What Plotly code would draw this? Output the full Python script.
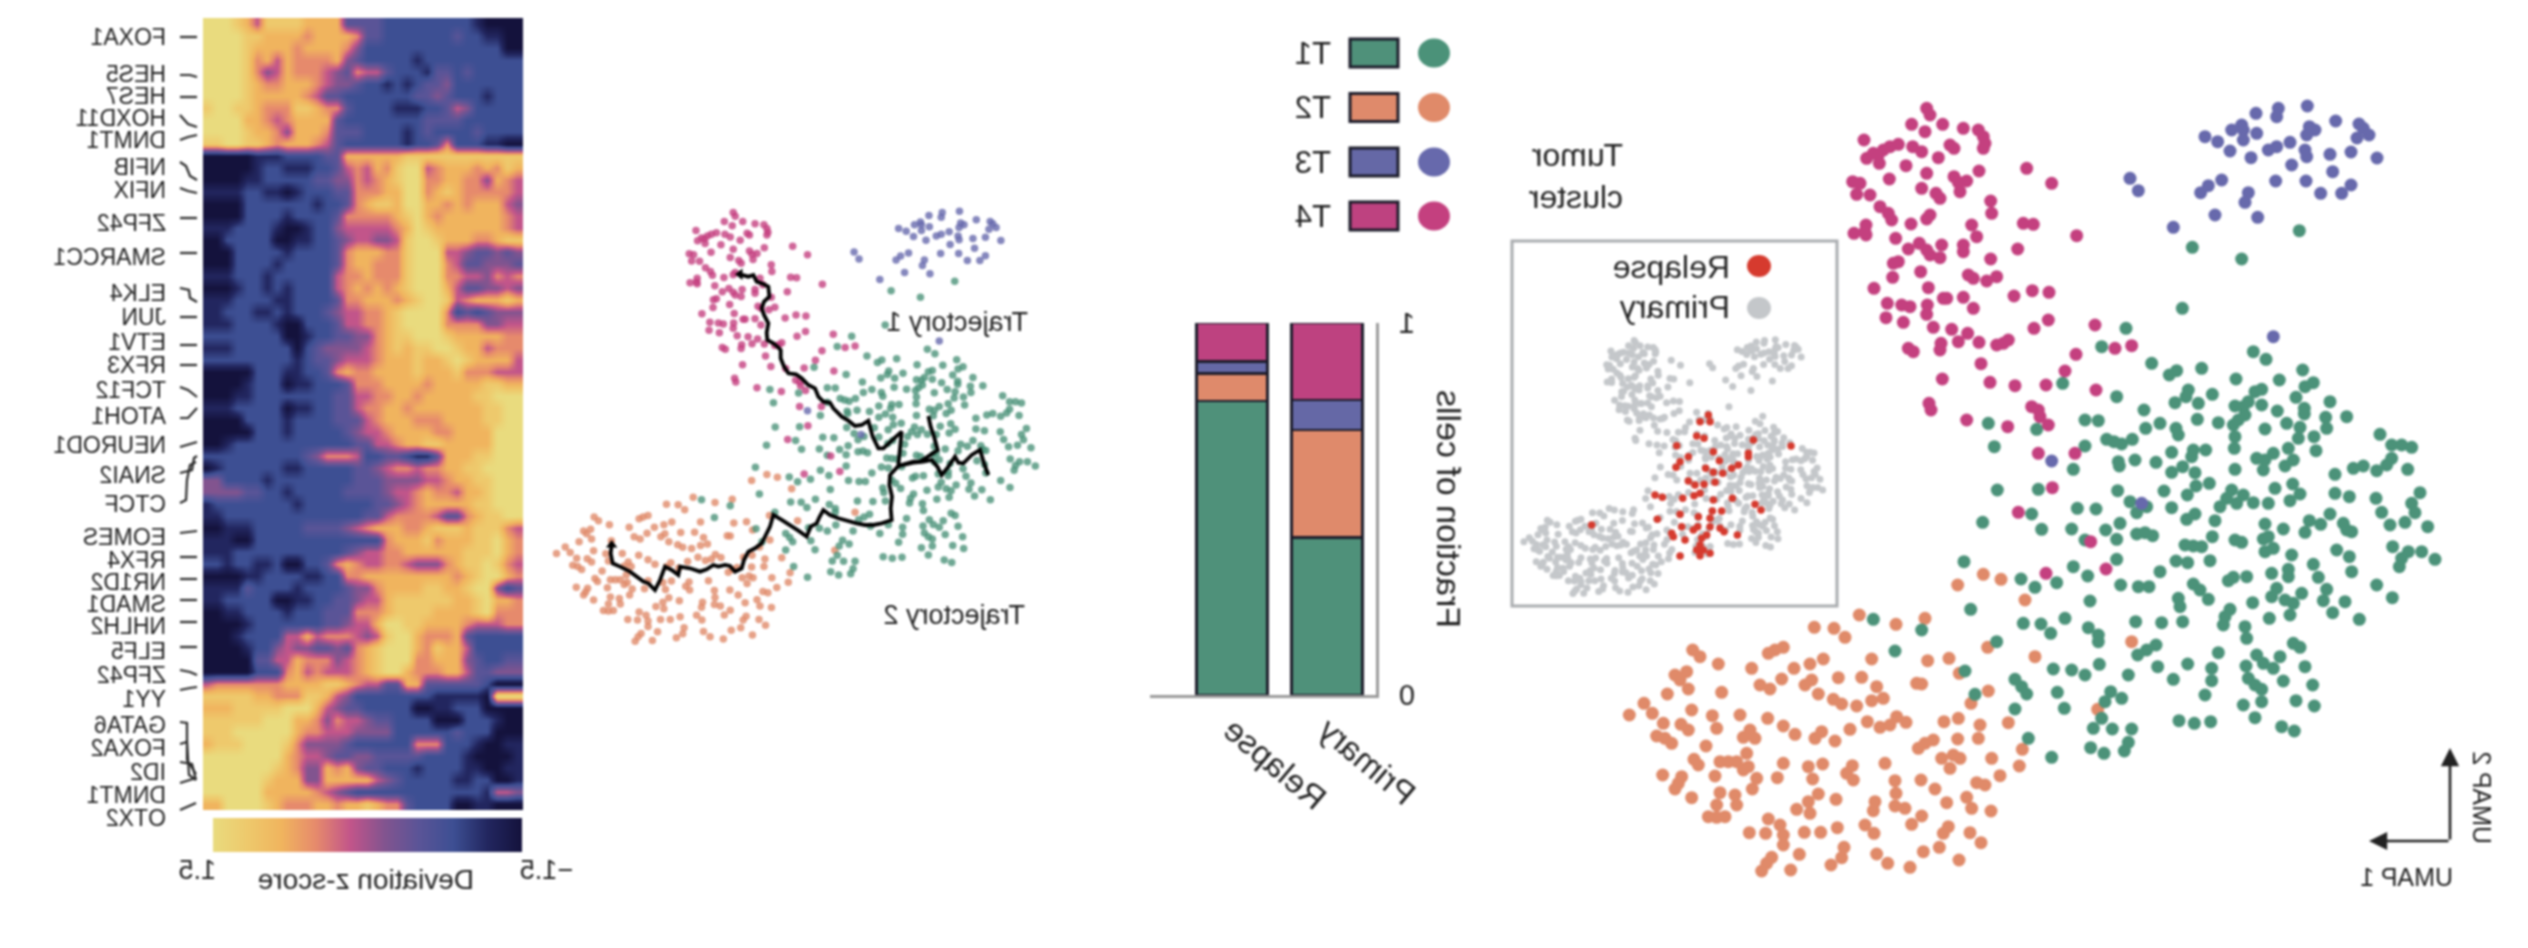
import plotly.graph_objects as go

W, H = 2528, 948
# ---------- tumour cluster fractions ----------
samples = ["Primary", "Relapse"]
clusters = ["T1", "T2", "T3", "T4"]
frac_T1 = [0.424, 0.791]
frac_T2 = [0.288, 0.073]
frac_T3 = [0.081, 0.032]
frac_T4 = [0.207, 0.104]
cluster_colors = ["#4B9279", "#E08A69", "#6769AC", "#C4407F"]
bar_colors = ["#4F917A", "#DF8A6B", "#6568A6", "#BE4280"]

# ---------- heatmap: deviation z-score levels, one digit per cell ----------
genes = ["FOXA1","HES5","HES7","HOXD11","DNMT1","NFIB","NFIX","ZFP42","SMARCC1","ELK4","JUN","ETV1","RFX3","TCF12","ATOH1","NEUROD1",
         "SNAI2","CTCF","EOMES","RFX4","NR1D2","SMAD1","NHLH2","ELF5","ZFP42","YY1","GATA6","FOXA2","ID2","DNMT1","OTX2"]
heat_rows = [
"99987588887777333322222222210000","99998877776777763322222223221100","99998777767777642222222222222200",
"99998675766667432222212222222222","99998645766654365532221332322222","99998766777654432212123342222222",
"99998777776533222222233432221222","89988766688766322221112235422222","99997765677773222222223333222222",
"99998776477763332222123222232222","88998876777653222222122362221100",
"00000111222233777777888888888888","00000122111223565768995677767687","00001122222334465678996677664765",
"11112211012223366677996787666665","00002222222122367887997767677754","00002222122223666667897677777765",
"11122221001224555556798777777765","00222220011223455445899877766788","00022222122223677766899955433434",
"00022221222223677666899965334443","11122212222225667666899966554656","00012212122225676767899975334454",
"11122221122223667776789985677787","11222112122234556678999962323444","11122221002223556678999966664455",
"22222222001223344678899987777766","11122222202344445678788998775666","22222222212334555677787789877775",
"00000222112236766777787778666555","00001222011222366677776777778877","00011222222223355667767777788999",
"11122222011223356677677777778899","00002222122223335677766677778899","00000222122222345567777667777999",
"00122222222222233556778877777999",
"22222222223466652233211377788999","01222222112222233456656677889999","44222212222222233344445567788999",
"44443322122222333345567665778999","12222222212222222334567777788999","11222222222222223356666533678899",
"00111222223333456777667888788865","11100222222222222267778677788976","11122222222222345566777777888976",
"22122112002236765566544467889865","00001122221122667777777776789976","11113222212222344677778877899423",
"11222220011223345578888887789776","00112222122233366678888777789666","00001222222233455799887777655566",
"00012222557566654589976667322222","00001224544334367899976877522222","00000335576664567899966777432233",
"00000222675655567899766677533444","56666666777788765533773333332000","88888776668875422222222111110999",
"77788888999754332222200112220000","88888899977646554332222000222100","88899999976655544442222223222000",
"78889999864444322222266622210011","99999999765543344333332222100001","99999998764476743322212222110011",
"99999987774477777543222221122001","99999977777654322222222222221554","77999987666776778766322220011000",
]
zscale_stops = ["#14123C","#22265F","#3D4F93","#5A5497","#82548F","#C2558A","#E68A6C","#F0B45E","#EEC96C","#E9DB7E"]

# ---------- UMAP embedding, cells ----------
T4_cells = [(290,40),(300,60),(245,88),(285,110),(338,88),(400,100),(445,105),(460,125),(465,145),(460,160),(102,135),(205,148),(180,155),(160,165),(130,175),(110,190),(148,205),(145,180),(248,155),(275,170),(325,188),(360,150),(372,160),(228,212),(290,235),(178,252),(372,245),(385,262),(410,258),(390,290),(447,228),(68,260),(90,265),(80,298),(120,300),(275,280),(318,295),(330,310),(150,335),(175,355),(185,375),(300,360),(290,372),(243,387),(482,318),(485,355),(590,220),(665,265),(580,385),(610,388),(740,422),(108,390),(105,410),(72,415),(108,420),(425,390),(440,425),(197,430),(235,462),(268,445),(290,465),(300,480),(335,450),(330,488),(400,450),(400,470),(563,462),(482,492),(205,500),(190,505),(272,530),(188,547),(415,540),(430,550),(500,545),(470,558),(132,580),(295,578),(552,603),(607,587),(657,592),(172,625),(215,630),(240,635),(292,630),(290,658),(340,610),(350,610),(400,607),(430,640),(168,668),(220,682),(655,675),(612,700),(795,690),(310,697),(365,703),(413,715),(385,740),(447,742),(333,745),(330,765),(500,750),(520,745),(535,735),(235,760),(250,770),(905,752),(855,760),(738,778),(453,806),(705,828),(337,852),(480,862),(555,872),(648,870),(798,885),(297,925),(303,945),(605,935),(625,945),(630,965),(655,990),(410,975),(533,995),(625,1075),(735,1075),(667,1178),(565,1252),(782,1340),(828,1422),(648,1435)]
T3_cells = [(1345,40),(1340,65),(1432,33),(1278,55),(1517,78),(1235,90),(1205,105),(1125,125),(1163,140),(1240,105),(1280,115),(1240,135),(1438,95),(1455,105),(1430,120),(1200,168),(1263,188),(1380,142),(1340,155),(1315,165),(1425,165),(1430,185),(1500,178),(1385,210),(1508,230),(1337,258),(1428,258),(1472,295),(1535,295),(900,250),(925,287),(1175,255),(1135,272),(1112,293),(1255,293),(1245,322),(1155,360),(1283,367),(1030,397),(1330,725),(665,1098),(935,1225),(1587,87),(1617,120),(1581,129),(1563,171),(1641,189),(1563,270),(1600,100)]
T1_cells = [(425,20),(880,35),(918,58),(575,70),(725,85),(650,92),(628,105),(1028,90),(828,117),(958,120),(1060,128),(1035,140),(685,150),(678,170),(905,148),(885,155),(757,163),(470,170),(1008,172),(645,188),(715,190),(865,185),(850,200),(825,198),(905,195),(1110,185),(552,210),(952,213),(1033,205),(1033,222),(1160,230),(375,240),(415,242),(712,238),(775,248),(855,225),(835,240),(820,255),(980,250),(1097,232),(1100,265),(600,250),(557,265),(648,265),(655,285),(915,267),(1020,262),(85,250),(230,268),(825,290),(1015,295),(1062,290),(1260,283),(440,298),(462,305),(485,312),(517,298),(1295,315),(1325,315),(1355,322),(375,318),(103,320),(823,325),(985,325),(1068,332),(737,330),(700,330),(635,337),(695,350),(940,340),(890,355),(915,360),(1000,360),(975,378),(475,365),(478,378),(525,360),(588,367),(1295,355),(1280,375),(1250,392),(1210,378),(1180,385),(1125,403),(1343,388),(340,388),(825,388),(910,390),(668,380),(635,397),(705,398),(748,430),(708,438),(998,432),(945,445),(1020,462),(990,482),(112,450),(235,448),(473,452),(612,453),(682,465),(815,450),(850,465),(800,475),(830,490),(880,488),(925,490),(1125,460),(1168,470),(1380,458),(1248,475),(510,485),(530,518),(560,500),(352,505),(408,507),(635,503),(780,500),(1355,490),(1265,517),(1365,518),(215,522),(705,522),(680,538),(1110,522),(1048,542),(1082,553),(68,547),(765,542),(480,550),(1150,550),(1335,547),(1290,555),(1403,560),(245,568),(335,567),(437,570),(915,552),(970,567),(1035,577),(1160,570),(1175,575),(530,582),(555,578),(578,587),(470,598),(375,600),(757,590),(910,597),(925,590),(825,600),(845,607),(675,615),(700,618),(725,620),(1298,620),(1130,630),(915,635),(940,625),(1345,635),(1385,635),(1325,655),(995,645),(1168,650),(470,658),(12,665),(648,663),(683,668),(750,662),(1425,658),(1060,673),(1318,680),(340,680),(600,695),(985,688),(1175,695),(935,700),(183,717),(383,708),(820,712),(860,710),(805,722),(1075,712),(985,710),(290,728),(225,742),(482,735),(535,740),(567,740),(700,732),(720,750),(1250,735),(1100,748),(950,745),(1025,760),(935,770),(745,778),(655,775),(660,800),(1297,773),(390,783),(878,788),(975,780),(1000,790),(1090,782),(1155,785),(32,808),(810,808),(990,825),(1118,818),(928,835),(795,830),(1198,838),(190,850),(243,852),(272,880),(315,835),(527,845),(605,848),(668,845),(790,855),(855,860),(385,863),(415,885),(415,905),(860,895),(110,905),(1000,910),(1020,922),(588,915),(560,930),(533,945),(775,938),(890,945),(910,970),(960,950),(418,973),(683,972),(280,987),(335,990),(593,980),(755,985),(858,978),(940,985),(1035,980),(15,993),(375,1005),(505,1005),(165,1018),(640,1018),(755,1022),(865,1015),(970,1023),(185,1040),(200,1062),(885,1035),(905,1048),(1058,1035),(292,1057),(735,1065),(452,1055),(485,1075),(45,1063),(435,1085),(1008,1082),(850,1095),(905,1085),(1063,1098),(165,1107),(313,1105),(885,1133),(425,1135),(657,1142),(703,1150),(752,1145),(965,1160),(1003,1173),(400,1165),(457,1167),(515,1167),(205,1195),(505,1207),(392,1223),(432,1240),(493,1233),(275,1252),(-115,870),(-260,838),(-195,933),(667,-95),(697,-278),(845,-243),(1018,-328),(308,130),(498,-35)]
T2_cells = [(718,675),(915,685),(828,703),(583,712),(642,715),(675,742),(218,780),(240,800),(465,780),(490,772),(445,790),(295,822),(395,835),(610,807),(570,822),(522,835),(755,807),(923,812),(987,805),(1103,772),(1245,800),(1535,755),(200,845),(165,855),(180,870),(485,867),(655,863),(725,862),(205,897),(420,885),(450,897),(555,885),(575,870),(770,890),(890,880),(905,882),(1018,850),(305,907),(142,912),(595,912),(640,928),(665,942),(755,932),(790,925),(1105,903),(72,940),(215,960),(710,948),(1053,940),(97,970),(277,977),(360,975),(28,975),(443,985),(130,1000),(183,1003),(205,1020),(290,1015),(490,1008),(525,1033),(742,995),(780,1012),(810,1005),(830,980),(858,997),(972,995),(1015,985),(1080,1005),(1165,998),(1433,958),(690,1018),(605,1025),(585,1045),(645,1053),(110,1038),(135,1045),(155,1060),(390,1020),(370,1042),(405,1045),(258,1068),(1013,1047),(1075,1045),(940,1050),(915,1060),(895,1075),(1207,1078),(380,1090),(222,1108),(235,1125),(300,1115),(325,1115),(350,1115),(385,1130),(370,1140),(490,1120),(608,1122),(565,1130),(697,1127),(795,1120),(965,1105),(1000,1095),(1020,1105),(990,1135),(1115,1105),(1198,1128),(128,1155),(285,1158),(410,1165),(472,1163),(578,1167),(680,1150),(700,1170),(825,1172),(903,1170),(1140,1157),(185,1160),(175,1180),(165,1197),(1070,1178),(1095,1185),(945,1197),(397,1197),(595,1212),(828,1210),(300,1208),(345,1215),(215,1223),(1040,1222),(648,1228),(565,1235),(765,1235),(290,1245),(350,1245),(980,1238),(825,1248),(855,1255),(530,1258),(570,1270),(760,1262),(1055,1255),(1113,1263),(265,1280),(290,1282),(315,1280),(905,1278),(445,1287),(735,1305),(875,1303),(480,1305),(985,1310),(652,1313),(970,1330),(1050,1328),(388,1328),(437,1330),(553,1327),(602,1327),(490,1335),(762,1330),(1083,1358),(490,1365),(672,1372),(958,1372),(538,1393),(910,1385),(770,1392),(665,1403),(455,1402),(440,1420),(425,1443),(1017,1410),(803,1420),(633,1425),(870,1432),(512,1440),(1215,630),(1090,553),(1143,568),(1013,585)]
relapse_cells = [(625,540),(600,560),(630,560),(590,603),(612,610),(530,632),(760,615),(873,633),(640,650),(745,655),(745,665),(565,665),(658,677),(540,680),(528,697),(617,700),(715,690),(695,700),(640,712),(668,715),(565,738),(585,750),(612,748),(645,742),(465,780),(487,787),(600,775),(582,782),(548,790),(640,795),(697,790),(765,808),(783,825),(637,828),(665,828),(540,838),(595,845),(630,850),(472,853),(545,875),(593,875),(630,875),(580,885),(660,880),(672,890),(515,895),(712,900),(620,900),(605,910),(555,915),(600,930),(590,945),(610,945),(630,955),(600,962),(540,963),(275,870),(520,905)]
trajectory_1 = [(600,283),(625,290),(640,285),(650,305),(670,312),(685,320),(688,350),(672,365),(665,385),(672,405),(685,430),(680,458),(682,480),(700,490),(712,500),(722,510),(722,535),(732,560),(745,580),(768,583),(785,595),(805,615),(825,625),(835,650),(850,665),(870,668),(880,685),(905,710),(925,722),(945,738),(965,735),(985,722),(998,770),(1015,805),(1030,805),(1045,790),(1068,770),(1085,755),(1080,810),(1075,855)]
trajectory_branch = [(1165,708),(1172,740),(1182,770),(1193,810),(1160,832),(1140,845),(1120,845),(1100,850),(1075,858),(1050,885),(1048,915),(1056,950),(1052,985),(1055,1020),(1025,1030),(1000,1035),(975,1035),(950,1030),(920,1022),(895,1015),(870,1005),(850,990),(838,1012),(830,1030),(812,1040),(800,1070),(775,1052),(750,1035),(725,1020),(700,1005),(690,1040),(665,1090),(645,1105),(625,1115),(612,1140),(605,1165),(585,1175),(570,1158),(555,1155),(535,1160),(520,1155),(500,1168),(480,1175),(450,1165),(420,1160),(415,1185),(395,1170),(375,1160),(360,1200),(345,1230),(325,1210),(310,1205),(290,1190),(270,1175),(240,1160),(218,1150),(212,1120),(215,1095)]
trajectory_2 = [(1075,858),(1120,848),(1150,845),(1175,840),(1192,860),(1205,885),(1225,860),(1245,830),(1255,848),(1270,850),(1295,825),(1320,810),(1332,850),(1345,885)]

# ---------- helpers ----------
def px(x): return (W - x) / W            # picture x (flipped page) -> paper
def py(y): return 1 - y / H
def dom_x(a, b): return [(W - b) / W, (W - a) / W]
def dom_y(top, bot): return [1 - bot / H, 1 - top / H]

OFF_T4T3 = (690, 45)
OFF_T1 = (1080, 780)
OFF_T2 = (60, 930)
def shift(cells, off): return [c[0] + off[0] for c in cells], [c[1] + off[1] for c in cells]
def relapse_xy(cells):
    return [((1500 + c[0] / 3) - 1513) / .1236 for c in cells], [((235 + c[1] / 3) - 331) / .1106 for c in cells]
def traj_xy(cells):
    return [(c[0] + 2.8) / .5943 for c in cells], [((180 + c[1] / 3) - 196.7) / .1873 for c in cells]

series = [(T2_cells, OFF_T2, 1), (T1_cells, OFF_T1, 0), (T4_cells, OFF_T4T3, 3), (T3_cells, OFF_T4T3, 2)]
FONT = "Liberation Sans"
INK = "#222222"

fig = go.Figure()

# heatmap
z = [[-1.5 + int(ch) / 3 for ch in r.ljust(32, r[-1])[:32]] for r in heat_rows]
stops = [[i / 9, c] for i, c in enumerate(zscale_stops)]
fig.add_trace(go.Heatmap(z=z, zmin=-1.5, zmax=1.5, colorscale=stops, zsmooth="best", xaxis="x", yaxis="y", hoverinfo="skip",
    colorbar=dict(orientation="h", x=(W - 367.5) / W, xanchor="center", y=py(818), yanchor="top", len=309, lenmode="pixels",
                  thickness=34, thicknessmode="pixels", outlinewidth=0, showticklabels=False, ticks="", xpad=0, ypad=0)))

# small and large UMAPs
for cells, off, ci in series:
    x, y = shift(cells, off)
    fig.add_trace(go.Scatter(x=x, y=y, mode="markers", marker=dict(size=7.5, color=cluster_colors[ci], opacity=0.8, line_width=0), xaxis="x2", yaxis="y2", hoverinfo="skip"))
    fig.add_trace(go.Scatter(x=x, y=y, mode="markers", marker=dict(size=13, color=cluster_colors[ci], line_width=0), xaxis="x3", yaxis="y3", hoverinfo="skip"))
    fig.add_trace(go.Scatter(x=x, y=y, mode="markers", marker=dict(size=7, color="#C4C7CA", line_width=0), xaxis="x4", yaxis="y4", hoverinfo="skip"))
rx, ry = relapse_xy(relapse_cells)
fig.add_trace(go.Scatter(x=rx, y=ry, mode="markers", marker=dict(size=7.5, color="#D63A2E", line_width=0), xaxis="x4", yaxis="y4", hoverinfo="skip"))

# trajectories
for path in (trajectory_1, trajectory_branch, trajectory_2):
    tx, ty = traj_xy(path)
    fig.add_trace(go.Scatter(x=tx, y=ty, mode="lines", line=dict(color="black", width=3.8), xaxis="x2", yaxis="y2", hoverinfo="skip"))
tx, ty = traj_xy([trajectory_1[0], trajectory_branch[-1]])
fig.add_trace(go.Scatter(x=tx, y=ty, mode="markers", marker=dict(symbol=["triangle-right", "triangle-up"], size=10, color="black"), xaxis="x2", yaxis="y2", hoverinfo="skip"))

# stacked bars
for vals, name, col in zip((frac_T1, frac_T2, frac_T3, frac_T4), clusters, bar_colors):
    fig.add_trace(go.Bar(x=[0, 1], y=vals, name=name, width=0.745, marker=dict(color=col, line=dict(color="#1c1c2a", width=2.5)), xaxis="x5", yaxis="y5", hoverinfo="skip"))

hidden = dict(visible=False, showgrid=False, zeroline=False)
fig.update_layout(
    width=W, height=H, margin=dict(l=0, r=0, t=0, b=0, autoexpand=False), autosize=False, showlegend=False, barmode="stack",
    paper_bgcolor="white", plot_bgcolor="white", font=dict(family=FONT, color=INK),
    xaxis=dict(domain=dom_x(203, 523), range=[31.5, -0.5], **hidden),
    yaxis=dict(domain=dom_y(18, 810), range=[65.5, -0.5], anchor="x", **hidden),
    xaxis2=dict(domain=dom_x(539.07, 1090.6), range=[2784, 0], anchor="y2", **hidden),
    yaxis2=dict(domain=dom_y(196.7, 684.4), range=[2604, 0], anchor="x2", **hidden),
    xaxis3=dict(domain=dom_x(1600, 2528), range=[2784, 0], anchor="y3", **hidden),
    yaxis3=dict(domain=dom_y(80, 948), range=[2604, 0], anchor="x3", **hidden),
    xaxis4=dict(domain=dom_x(1513, 1837), range=[2621, 0], anchor="y4", **hidden),
    yaxis4=dict(domain=dom_y(331, 606), range=[2486, 0], anchor="x4", **hidden),
    xaxis5=dict(domain=dom_x(1150, 1376), range=[-0.516, 1.863], anchor="y5", tickmode="array", tickvals=[0, 1], ticktext=samples,
                tickangle=-40, ticks="", tickfont=dict(size=33), showline=True, linecolor="#9a9a9a", linewidth=3, showgrid=False, zeroline=False),
    yaxis5=dict(domain=dom_y(323, 695), range=[0, 1], anchor="x5", tickmode="array", tickvals=[0, 1], ticktext=["0", "1"], ticks="",
                tickfont=dict(size=29), ticklabelstandoff=14, showline=True, linecolor="#9a9a9a", linewidth=3, showgrid=False, zeroline=False),
)

ann, shp = [], []
def text(t, x, y, size, anchor="left", angle=0, color=INK):
    ann.append(dict(text=t, x=px(x), y=py(y), xref="paper", yref="paper", showarrow=False, xanchor=anchor, yanchor="middle",
                    textangle=angle, font=dict(size=size, family=FONT, color=color)))

# gene labels and their connectors (picture x from the label to the heatmap)
label_y = [37,74,96,118,140,167,190,223,257,293,317,342,365,390,416,445,475,504,537,560,582,604,626,651,675,699,725,748,772,795,818]
for g, y in zip(genes, label_y):
    text(g, 168, y, 23)
connectors = [
 [(180,37),(197,37)],[(180,75),(190,75),(197,77)],[(180,97),(197,97)],[(180,115),(188,124),(197,127)],[(180,140),(188,137),(197,135)],
 [(180,162),(186,166),(190,176),(197,180)],[(180,188),(188,191),(197,193)],[(180,218),(197,218)],[(180,253),(197,253)],
 [(180,288),(189,290),(190,298),(197,302)],[(180,317),(197,317)],[(180,345),(197,345)],[(180,365),(197,365)],[(180,387),(188,390),(197,397)],
 [(180,418),(188,418),(197,408)],[(180,447),(197,442)],
 [(180,473),(192,470),(194,458),(197,456)],[(180,503),(186,500),(187,480),(190,465),(196,462)],
 [(180,533),(197,531)],[(180,557),(197,557)],[(180,579),(197,579)],[(180,600),(197,600)],[(180,622),(197,622)],[(180,647),(197,647)],
 [(180,670),(190,672),(197,675)],[(180,690),(190,688),(197,687)],
 [(180,722),(187,723),(187,760),(196,774)],[(180,744),(187,742),(189,775),(196,780)],[(180,762),(192,764),(196,780)],[(180,783),(196,778)],[(180,810),(196,803)],
]
for c in connectors:
    p = "M " + " L ".join(f"{px(x):.5f},{py(y):.5f}" for x, y in c)
    shp.append(dict(type="path", path=p, xref="paper", yref="paper", line=dict(color="#2a2a2a", width=2.2)))

# colour bar text
text("1.5", 197, 870, 27, "center")
text("\u22121.5", 547, 870, 27, "center")
text("Deviation z-score", 366, 879, 28, "center")
# trajectory and panel text
text("Trajectory 1", 1030, 322, 27)
text("Trajectory 2", 1027, 615, 27)
text("Fraction of cells", 1449, 509, 34, "center", -90)
text("Tumor", 1625, 155, 32)
text("cluster", 1625, 197, 32)
text("UMAP 1", 2455, 877, 25)
text("UMAP 2", 2482, 798, 25, "center", -90)
text("Relapse", 1732, 267, 32)
text("Primary", 1732, 307, 32)
# cluster legend
rows_y = [53, 107.5, 162, 216]
for name, col, ccol, y in zip(clusters, bar_colors, cluster_colors, rows_y):
    text(name, 1333, y, 31)
    shp.append(dict(type="rect", xref="paper", yref="paper", x0=px(1350), x1=px(1398), y0=py(y - 14), y1=py(y + 14), fillcolor=col, line=dict(color="#1c1c2a", width=3)))
    shp.append(dict(type="circle", xref="paper", yref="paper", x0=px(1434 - 16), x1=px(1434 + 16), y0=py(y - 14.5), y1=py(y + 14.5), fillcolor=ccol, line_width=0))
# inset frame and legend
shp.append(dict(type="rect", xref="paper", yref="paper", x0=px(1512), x1=px(1837), y0=py(241), y1=py(606), line=dict(color="#A9ACAF", width=3)))
shp.append(dict(type="circle", xref="paper", yref="paper", x0=px(1759 - 12), x1=px(1759 + 12), y0=py(266 - 11), y1=py(266 + 11), fillcolor="#D63A2E", line_width=0))
shp.append(dict(type="circle", xref="paper", yref="paper", x0=px(1759 - 12), x1=px(1759 + 12), y0=py(308 - 11), y1=py(308 + 11), fillcolor="#C4C7CA", line_width=0))
# UMAP arrows
for tip, tail in (((2369, 841), (2450, 841)), ((2450, 748), (2450, 841))):
    ann.append(dict(text="", x=px(tip[0]), y=py(tip[1]), xref="paper", yref="paper", ax=tip[0] - tail[0], ay=tail[1] - tip[1], axref="pixel", ayref="pixel",
                    showarrow=True, arrowhead=2, arrowsize=1.4, arrowwidth=2.6, arrowcolor=INK))
fig.update_layout(annotations=ann, shapes=shp)

# the reference is a mirror image, so the finished page is flipped left-to-right
flip = ("document.body.style.margin='0';document.body.style.overflow='hidden';"
        "var g=document.getElementById('{plot_id}');g.style.transform='scaleX(-1)';g.style.filter='blur(1.1px)';")
fig.write_html("out.html", post_script=flip, config=dict(displayModeBar=False))
